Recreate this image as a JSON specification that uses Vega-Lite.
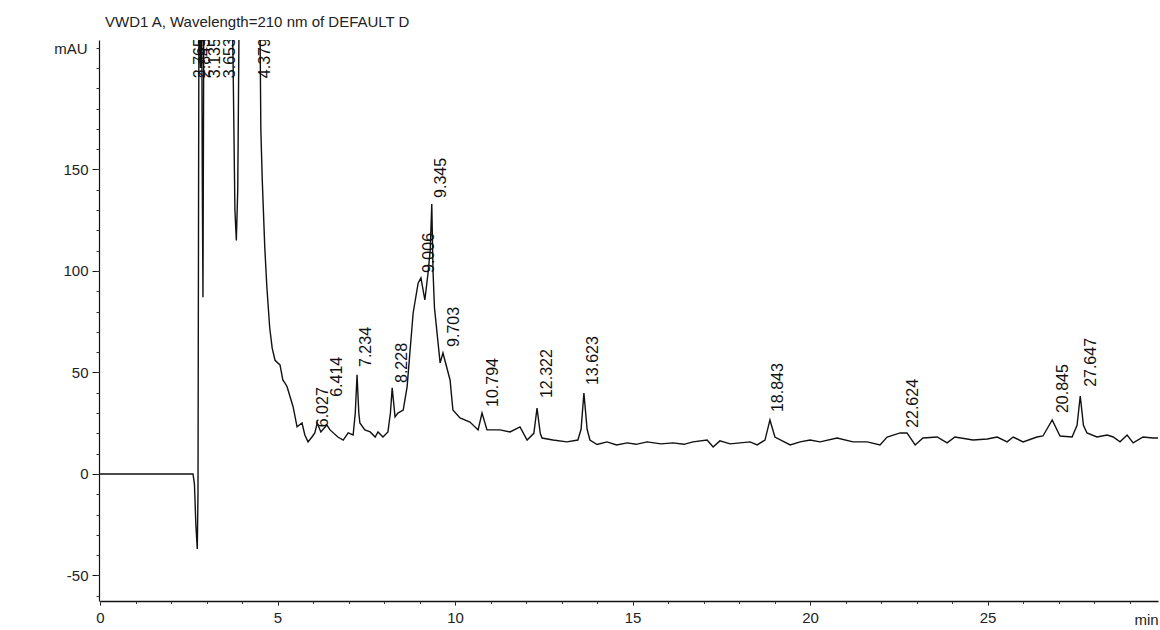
{
  "$schema": "https://vega.github.io/schema/vega-lite/v6.json",
  "width": 1058,
  "height": 561,
  "autosize": "none",
  "padding": {"left": 100, "top": 40, "right": 2, "bottom": 29},
  "background": "white",
  "config": {"view": {"stroke": null}, "font": "Liberation Sans"},
  "title": {
    "text": "VWD1 A, Wavelength=210 nm of DEFAULT D",
    "anchor": "start",
    "frame": "group",
    "dx": 5,
    "offset": -2,
    "baseline": "alphabetic",
    "fontSize": 15,
    "fontWeight": "normal",
    "color": "#222",
    "font": "Liberation Sans"
  },
  "datasets": {
    "trace": [
      {"t": 0, "v": 0}, {"t": 1.0, "v": 0}, {"t": 2.0, "v": 0}, {"t": 2.62, "v": 0},
      {"t": 2.66, "v": -5}, {"t": 2.70, "v": -25}, {"t": 2.74, "v": -37}, {"t": 2.76, "v": -10},
      {"t": 2.79, "v": 260}, {"t": 2.83, "v": 200}, {"t": 2.86, "v": 260}, {"t": 2.88, "v": 150},
      {"t": 2.90, "v": 87}, {"t": 2.93, "v": 260}, {"t": 3.1, "v": 320}, {"t": 3.5, "v": 320},
      {"t": 3.70, "v": 260}, {"t": 3.75, "v": 200}, {"t": 3.80, "v": 130}, {"t": 3.84, "v": 115},
      {"t": 3.88, "v": 140}, {"t": 3.92, "v": 230}, {"t": 3.96, "v": 300}, {"t": 4.38, "v": 350},
      {"t": 4.47, "v": 240}, {"t": 4.51, "v": 214}, {"t": 4.53, "v": 170}, {"t": 4.57, "v": 145},
      {"t": 4.64, "v": 112}, {"t": 4.70, "v": 92}, {"t": 4.78, "v": 72}, {"t": 4.85, "v": 62},
      {"t": 4.93, "v": 56}, {"t": 5.07, "v": 53.7}, {"t": 5.15, "v": 46.3}, {"t": 5.21, "v": 44.8},
      {"t": 5.27, "v": 42.9}, {"t": 5.44, "v": 33}, {"t": 5.55, "v": 23.2}, {"t": 5.69, "v": 25.1},
      {"t": 5.77, "v": 19.2}, {"t": 5.86, "v": 15.8}, {"t": 5.97, "v": 18.2}, {"t": 6.05, "v": 20.2},
      {"t": 6.12, "v": 25.1}, {"t": 6.22, "v": 20.7}, {"t": 6.39, "v": 24.1}, {"t": 6.48, "v": 21.7},
      {"t": 6.70, "v": 18.2}, {"t": 6.85, "v": 16.7}, {"t": 6.99, "v": 20.2}, {"t": 7.13, "v": 19.2},
      {"t": 7.19, "v": 30}, {"t": 7.24, "v": 48.8}, {"t": 7.29, "v": 30}, {"t": 7.32, "v": 25.1},
      {"t": 7.46, "v": 21.7}, {"t": 7.61, "v": 20.7}, {"t": 7.75, "v": 18.2}, {"t": 7.83, "v": 20.7},
      {"t": 7.97, "v": 18.2}, {"t": 8.11, "v": 20.7}, {"t": 8.18, "v": 30}, {"t": 8.23, "v": 42.4},
      {"t": 8.31, "v": 28.1}, {"t": 8.39, "v": 30}, {"t": 8.54, "v": 31.5}, {"t": 8.65, "v": 42.9},
      {"t": 8.82, "v": 79.3}, {"t": 8.96, "v": 94}, {"t": 9.04, "v": 96.6}, {"t": 9.15, "v": 85.7},
      {"t": 9.24, "v": 99}, {"t": 9.30, "v": 110}, {"t": 9.345, "v": 133}, {"t": 9.38, "v": 100},
      {"t": 9.42, "v": 82}, {"t": 9.58, "v": 54.7}, {"t": 9.66, "v": 59.6}, {"t": 9.86, "v": 46.3},
      {"t": 9.94, "v": 31.5}, {"t": 10.14, "v": 27.6}, {"t": 10.42, "v": 25.6}, {"t": 10.65, "v": 21.7},
      {"t": 10.76, "v": 30}, {"t": 10.90, "v": 21.7}, {"t": 11.27, "v": 21.7}, {"t": 11.55, "v": 20.7},
      {"t": 11.83, "v": 23.2}, {"t": 12.03, "v": 16.7}, {"t": 12.22, "v": 20}, {"t": 12.31, "v": 32.5},
      {"t": 12.40, "v": 20}, {"t": 12.45, "v": 17.7}, {"t": 12.76, "v": 16.7}, {"t": 13.15, "v": 15.8},
      {"t": 13.46, "v": 16.7}, {"t": 13.55, "v": 22}, {"t": 13.63, "v": 39.9}, {"t": 13.72, "v": 22},
      {"t": 13.80, "v": 16.7}, {"t": 14.0, "v": 14.5}, {"t": 14.28, "v": 15.8}, {"t": 14.55, "v": 14.3},
      {"t": 14.85, "v": 15.3}, {"t": 15.1, "v": 14.6}, {"t": 15.41, "v": 15.8}, {"t": 15.8, "v": 14.8},
      {"t": 16.14, "v": 15.3}, {"t": 16.45, "v": 14.6}, {"t": 16.70, "v": 15.8}, {"t": 17.10, "v": 16.7},
      {"t": 17.27, "v": 13.3}, {"t": 17.46, "v": 16.3}, {"t": 17.75, "v": 14.8}, {"t": 18.03, "v": 15.3},
      {"t": 18.31, "v": 15.8}, {"t": 18.51, "v": 14.3}, {"t": 18.73, "v": 16.7}, {"t": 18.87, "v": 26.6},
      {"t": 19.01, "v": 18.2}, {"t": 19.44, "v": 14.3}, {"t": 19.72, "v": 15.8}, {"t": 20.0, "v": 16.7},
      {"t": 20.28, "v": 15.8}, {"t": 20.76, "v": 17.7}, {"t": 21.21, "v": 15.8}, {"t": 21.61, "v": 15.8},
      {"t": 21.97, "v": 14.3}, {"t": 22.17, "v": 18.2}, {"t": 22.54, "v": 20.2}, {"t": 22.73, "v": 20.2},
      {"t": 22.96, "v": 14.3}, {"t": 23.18, "v": 17.7}, {"t": 23.58, "v": 18.2}, {"t": 23.86, "v": 15.3},
      {"t": 24.08, "v": 18.2}, {"t": 24.59, "v": 16.7}, {"t": 24.99, "v": 17.2}, {"t": 25.27, "v": 18.2},
      {"t": 25.55, "v": 15.8}, {"t": 25.72, "v": 18.2}, {"t": 26.0, "v": 15.8}, {"t": 26.39, "v": 18.2},
      {"t": 26.56, "v": 18.7}, {"t": 26.82, "v": 26.6}, {"t": 27.04, "v": 18.7}, {"t": 27.38, "v": 18.2},
      {"t": 27.52, "v": 24}, {"t": 27.61, "v": 38.4}, {"t": 27.70, "v": 24}, {"t": 27.80, "v": 20.2},
      {"t": 28.08, "v": 18.2}, {"t": 28.37, "v": 19.2}, {"t": 28.54, "v": 18.2}, {"t": 28.73, "v": 15.8},
      {"t": 28.93, "v": 19.2}, {"t": 29.10, "v": 15.3}, {"t": 29.38, "v": 18.2}, {"t": 29.66, "v": 17.7},
      {"t": 29.86, "v": 17.7}
    ],
    "peaks": [
      {"t": 2.56, "v": 195, "label": "2.765"},
      {"t": 2.70, "v": 195, "label": "2.843"},
      {"t": 2.96, "v": 195, "label": "3.135"},
      {"t": 3.38, "v": 195, "label": "3.653"},
      {"t": 4.379, "v": 195, "label": "4.379"},
      {"t": 6.027, "v": 23, "label": "6.027"},
      {"t": 6.414, "v": 38, "label": "6.414"},
      {"t": 7.234, "v": 52.7, "label": "7.234"},
      {"t": 8.228, "v": 44.8, "label": "8.228"},
      {"t": 9.006, "v": 99, "label": "9.006"},
      {"t": 9.345, "v": 136, "label": "9.345"},
      {"t": 9.703, "v": 62.6, "label": "9.703"},
      {"t": 10.794, "v": 33, "label": "10.794"},
      {"t": 12.322, "v": 37.4, "label": "12.322"},
      {"t": 13.623, "v": 43.8, "label": "13.623"},
      {"t": 18.843, "v": 30.5, "label": "18.843"},
      {"t": 22.624, "v": 22.7, "label": "22.624"},
      {"t": 26.845, "v": 30, "label": "20.845"},
      {"t": 27.647, "v": 42.9, "label": "27.647"}
    ]
  },
  "layer": [
    {
      "data": {"name": "trace"},
      "mark": {"type": "line", "clip": true, "color": "#111", "strokeWidth": 1.4},
      "encoding": {
        "x": {
          "field": "t", "type": "quantitative",
          "scale": {"domain": [0, 29.8], "nice": false, "zero": false},
          "axis": {
            "orient": "bottom", "values": [0, 5, 10, 15, 20, 25], "grid": false,
            "title": "min", "titleX": 1034, "titleY": 18, "titleAlign": "left", "titleBaseline": "middle",
            "titleFontSize": 15, "titleFontWeight": "normal", "titleColor": "#222", "titleFont": "Liberation Sans",
            "labelFontSize": 15, "labelColor": "#222", "labelFont": "Liberation Sans", "labelPadding": 5,
            "labelFlush": false, "labelOverlap": false,
            "domainColor": "#111", "domainWidth": 1.3, "tickColor": "#111", "tickSize": 4
          }
        },
        "y": {
          "field": "v", "type": "quantitative",
          "scale": {"domain": [-62.6, 213.8], "nice": false, "zero": false},
          "axis": {
            "orient": "left", "values": [-50, 0, 50, 100, 150], "grid": false, "offset": 1,
            "labelExpr": "'' + datum.value",
            "title": "mAU", "titleAngle": 0, "titleX": -12, "titleY": 8, "titleAlign": "right", "titleBaseline": "middle",
            "titleFontSize": 15, "titleFontWeight": "normal", "titleColor": "#222", "titleFont": "Liberation Sans",
            "labelFontSize": 15, "labelColor": "#222", "labelFont": "Liberation Sans", "labelPadding": 4,
            "domainColor": "#111", "domainWidth": 1.2, "tickColor": "#111", "tickSize": 7
          }
        }
      }
    },
    {
      "data": {"name": "peaks"},
      "mark": {"type": "text", "clip": true, "angle": 270, "align": "left", "baseline": "top", "dy": 1.5,
               "fontSize": 16, "font": "Liberation Sans", "color": "#111"},
      "encoding": {
        "x": {
          "field": "t", "type": "quantitative",
          "scale": {"domain": [0, 29.8], "nice": false, "zero": false},
          "axis": {
            "orient": "bottom", "values": [0,1,2,3,4,5,6,7,8,9,10,11,12,13,14,15,16,17,18,19,20,21,22,23,24,25,26,27,28,29],
            "labels": false, "domain": false, "grid": false, "title": null, "tickSize": 2.5, "tickColor": "#333"
          }
        },
        "y": {
          "field": "v", "type": "quantitative",
          "scale": {"domain": [-62.6, 213.8], "nice": false, "zero": false},
          "axis": {
            "orient": "left", "offset": 1,
            "values": [-60,-50,-40,-30,-20,-10,0,10,20,30,40,50,60,70,80,90,100,110,120,130,140,150,160,170,180,190,200,210],
            "labels": false, "domain": false, "grid": false, "title": null, "tickSize": 3, "tickColor": "#333"
          }
        },
        "text": {"field": "label", "type": "nominal"}
      }
    }
  ],
  "resolve": {"axis": {"x": "independent", "y": "independent"}}
}
